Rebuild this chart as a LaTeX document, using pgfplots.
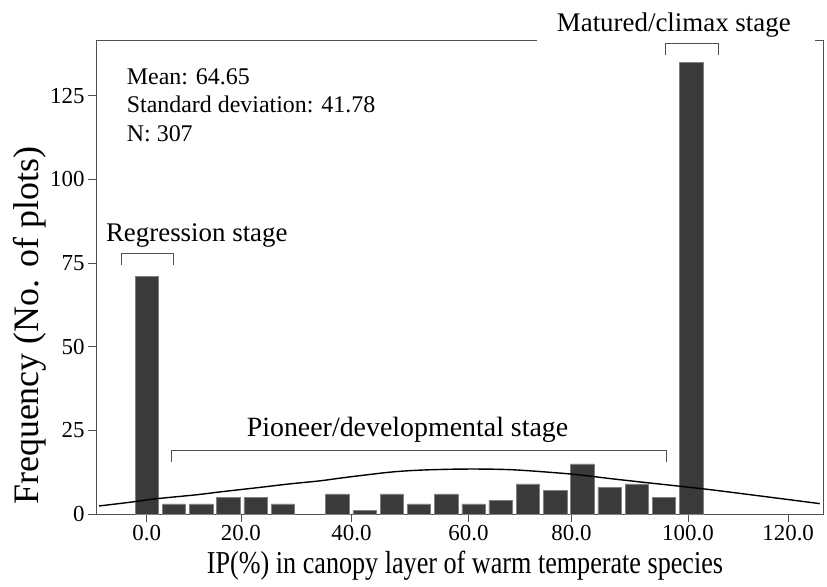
\documentclass[border=0pt]{standalone}
\usepackage{pgfplots}
\pgfplotsset{compat=1.18}
\usepackage{fontspec}
\setmainfont{Liberation Serif}
\usepackage{graphicx}
\definecolor{barfill}{HTML}{3A3A3A}
\definecolor{baredge}{HTML}{808080}
\definecolor{framecol}{HTML}{505050}

\begin{document}
\begin{tikzpicture}
\path[use as bounding box] (0,0) rectangle (827bp,587bp);
\begin{axis}[
  at={(96bp,73bp)}, anchor=south west,
  scale only axis, width=727bp, height=474bp,
  xmin=-9.31, xmax=124.2, ymin=0, ymax=141.6,
  axis line style={framecol, line width=0.8bp},
  xtick={0,17.3,37.6,59.1,78.0,99.4,117.8},
  xticklabels={0.0,20.0,40.0,60.0,80.0,100.0,120.0},
  ytick={0,25,50,75,100,125},
  tick align=outside, xtick pos=left, ytick pos=left,
  major tick length=8bp,
  tick style={framecol, line width=0.8bp},
  /pgf/number format/assume math mode=true,
  ticklabel style={font=\fontsize{23}{27}\selectfont},
  xticklabel style={inner sep=3bp},
  xlabel={\scalebox{0.82}[1]{IP(\%) in canopy layer of warm temperate species}},
  ylabel={Frequency (No. of plots)},
  xlabel style={font=\fontsize{32}{38}\selectfont, at={(axis description cs:0.5076,-0.1097)}, anchor=center},
  ylabel style={font=\fontsize{36}{42}\selectfont, at={(axis description cs:-0.0908,0.397)}, anchor=center},
  clip=false,
]
\addplot[ybar, bar width=4.28, fill=barfill, draw=baredge, line width=0.5bp] coordinates {
(0,71) (5,3) (10,3) (15,5) (20,5) (25,3) (35,6) (40,1) (45,6) (50,3)
(55,6) (60,3) (65,4) (70,9) (75,7) (80,15) (85,8) (90,9) (95,5) (100,135)
};
\addplot[black, line width=1.4bp, smooth, tension=0.5] coordinates {
(-8.75,2.4) (-3.1,3.5) (2,4.6) (8.9,5.7) (14,6.7) (20,7.8) (26.3,9.0) (31.8,9.9)
(36.4,10.9) (44.7,12.5) (50.2,13.1) (56.8,13.4) (63,13.4) (68.5,13.1) (78.2,11.9)
(85,10.6) (90.5,9.6) (102.8,7.4) (115,4.9) (123.6,3.1)
};
% annotations
\node[anchor=base west, inner sep=0pt, font=\fontsize{24}{28}\selectfont] at (axis cs:-3.67,128.3) {Mean: 64.65};
\node[anchor=base west, inner sep=0pt, font=\fontsize{24}{28}\selectfont] at (axis cs:-3.67,119.9) {Standard deviation: 41.78};
\node[anchor=base west, inner sep=0pt, font=\fontsize{24}{28}\selectfont] at (axis cs:-3.67,111.2) {N: 307};
\node[anchor=base, inner sep=0pt, font=\fontsize{27}{32}\selectfont] at (axis cs:9.2,81.3) {Regression stage};
\draw[framecol, line width=0.8bp] (axis cs:-4.6,74.4) -- (axis cs:-4.6,77.9) -- (axis cs:4.9,77.9) -- (axis cs:4.9,74.4);
\node[anchor=base, inner sep=0pt, font=\fontsize{28}{33}\selectfont] at (axis cs:47.9,23.1) {Pioneer/developmental stage};
\draw[framecol, line width=0.8bp] (axis cs:4.46,15.4) -- (axis cs:4.46,19.1) -- (axis cs:95.4,19.1) -- (axis cs:95.4,15.4);
\draw[framecol, line width=0.8bp] (axis cs:95.3,137.1) -- (axis cs:95.3,140.6) -- (axis cs:104.9,140.6) -- (axis cs:104.9,137.1);
\coordinate (mat) at (axis cs:96.8,144.0);
\end{axis}
\fill[white] (537bp,545.5bp) rectangle (815bp,587bp);
\node[anchor=base, inner sep=0pt, font=\fontsize{27}{32}\selectfont] at (mat) {Matured/climax stage};
\end{tikzpicture}
\end{document}
